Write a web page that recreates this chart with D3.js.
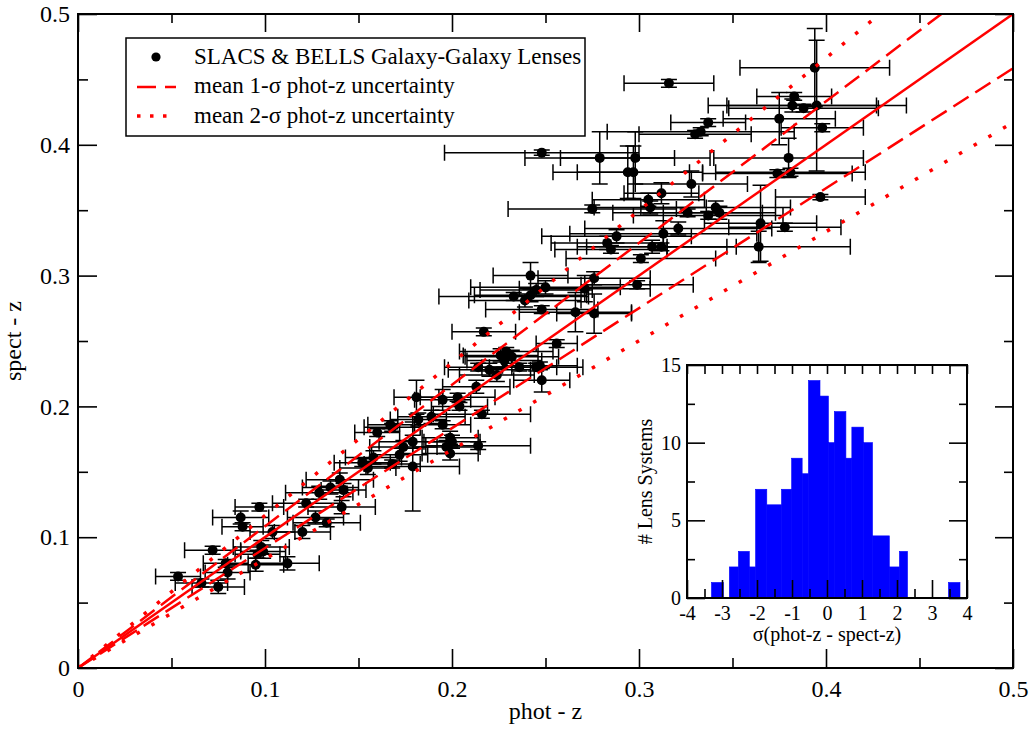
<!DOCTYPE html>
<html>
<head>
<meta charset="utf-8">
<script src="https://cdn.jsdelivr.net/npm/d3@7"></script>
<style>
  body { margin: 0; background: #fff; }
  svg text { font-family: "Liberation Serif", "Times New Roman", serif; fill: #000; }
</style>
</head>
<body>
<svg id="chart" width="1035" height="736"></svg>
<script>
// lens systems: photometric z, spectroscopic z and their errors
var photZ = [
  0.394,0.316,0.383,0.382,0.388,0.395,0.375,0.337,0.333,0.330,
  0.398,0.279,0.298,0.294,0.297,0.380,0.374,0.381,0.248,0.328,
  0.312,0.305,0.306,0.275,0.326,0.337,0.341,0.343,0.321,0.313,
  0.288,0.283,0.285,0.307,0.312,0.365,0.378,0.397,0.364,0.301,
  0.276,0.242,0.299,0.271,0.250,0.245,0.233,0.242,0.239,0.248,
  0.266,0.276,0.217,0.256,0.226,0.229,0.232,0.228,0.214,0.220,
  0.224,0.236,0.245,0.247,0.248,0.213,0.181,0.203,0.195,0.204,
  0.216,0.189,0.182,0.167,0.168,0.160,0.199,0.200,0.197,0.199,
  0.214,0.179,0.174,0.172,0.152,0.179,0.168,0.155,0.158,0.140,
  0.129,0.135,0.142,0.122,0.141,0.127,0.133,0.120,0.097,0.087,
  0.088,0.104,0.072,0.098,0.099,0.096,0.112,0.095,0.079,0.080,
  0.0535,0.066,0.075,0.195]
var specZ = [
  0.459,0.447,0.437,0.430,0.428,0.430,0.420,0.417,0.410,0.408,
  0.413,0.390,0.390,0.379,0.379,0.390,0.378,0.379,0.394,0.370,
  0.363,0.358,0.352,0.351,0.348,0.346,0.352,0.348,0.336,0.332,
  0.330,0.325,0.320,0.322,0.322,0.340,0.337,0.360,0.322,0.313,
  0.298,0.300,0.293,0.290,0.291,0.289,0.284,0.285,0.281,0.274,
  0.272,0.271,0.257,0.248,0.239,0.242,0.238,0.235,0.230,0.228,
  0.224,0.230,0.230,0.231,0.220,0.215,0.207,0.207,0.205,0.200,
  0.194,0.192,0.190,0.186,0.184,0.180,0.176,0.173,0.169,0.164,
  0.170,0.173,0.169,0.163,0.157,0.154,0.156,0.153,0.161,0.144,
  0.134,0.138,0.136,0.126,0.123,0.115,0.111,0.104,0.123,0.115,
  0.108,0.104,0.090,0.0925,0.089,0.087,0.080,0.079,0.080,0.073,
  0.070,0.065,0.062,0.186]
var photErr = [
  0.040,0.024,0.020,0.045,0.040,0.048,0.030,0.020,0.050,0.030,
  0.022,0.040,0.040,0.040,0.030,0.040,0.040,0.040,0.052,0.030,
  0.020,0.030,0.030,0.045,0.040,0.040,0.040,0.030,0.050,0.050,
  0.040,0.030,0.030,0.040,0.040,0.030,0.030,0.024,0.049,0.040,
  0.030,0.020,0.030,0.035,0.040,0.030,0.040,0.030,0.030,0.030,
  0.030,0.020,0.017,0.011,0.020,0.025,0.025,0.020,0.018,0.022,
  0.020,0.020,0.025,0.020,0.015,0.018,0.012,0.020,0.015,0.015,
  0.026,0.018,0.015,0.012,0.015,0.012,0.015,0.015,0.018,0.015,
  0.028,0.018,0.018,0.015,0.015,0.025,0.015,0.015,0.015,0.018,
  0.018,0.015,0.012,0.018,0.018,0.015,0.018,0.015,0.013,0.015,
  0.011,0.012,0.015,0.015,0.012,0.012,0.017,0.015,0.012,0.012,
  0.012,0.014,0.014,0.015]
var specErr = [
  0.030,0.003,0.003,0.005,0.003,0.050,0.020,0.003,0.003,0.003,
  0.003,0.020,0.020,0.020,0.020,0.015,0.003,0.003,0.002,0.010,
  0.008,0.005,0.005,0.003,0.003,0.003,0.005,0.005,0.005,0.010,
  0.005,0.005,0.003,0.005,0.003,0.029,0.003,0.002,0.012,0.003,
  0.005,0.010,0.003,0.010,0.005,0.005,0.003,0.005,0.005,0.003,
  0.015,0.015,0.003,0.003,0.005,0.003,0.005,0.005,0.003,0.005,
  0.005,0.003,0.003,0.003,0.009,0.005,0.013,0.003,0.008,0.003,
  0.003,0.005,0.005,0.003,0.003,0.003,0.005,0.005,0.005,0.005,
  0.003,0.005,0.005,0.005,0.003,0.034,0.003,0.005,0.005,0.005,
  0.005,0.005,0.005,0.003,0.005,0.005,0.003,0.005,0.003,0.005,
  0.003,0.005,0.003,0.005,0.005,0.003,0.005,0.005,0.003,0.005,
  0.003,0.003,0.005,0.003]

// mean phot-z uncertainty (fractional)
var sigma1 = 0.083, sigma2 = 0.166

var xMajor = [0, 0.1, 0.2, 0.3, 0.4, 0.5], xMinor = [0.05, 0.15, 0.25, 0.35, 0.45]
var yMajor = [0, 0.1, 0.2, 0.3, 0.4, 0.5], yMinor = [0.05, 0.15, 0.25, 0.35, 0.45]
var xTickLabels = ["0", "0.1", "0.2", "0.3", "0.4", "0.5"]
var yTickLabels = ["0", "0.1", "0.2", "0.3", "0.4", "0.5"]

// inset histogram
var binEdges = [-4, -3.3, -2.96, -2.79, -2.53, -2.22, -2.04, -1.72, -1.3, -1.01, -0.71, -0.53,
                -0.2, 0.04, 0.21, 0.54, 0.71, 1.04, 1.3, 1.78, 2.07, 2.3, 3.47, 3.8]
var binCounts = [0, 1, 0, 2, 3, 2, 7, 6, 7, 9, 8, 14, 13, 10, 12, 9, 11, 10, 4, 2, 3, 0, 1]
var hxMajor = [-4, -3, -2, -1, 0, 1, 2, 3, 4], hxMinor = [-3.5, -2.5, -1.5, -0.5, 0.5, 1.5, 2.5, 3.5]
var hyMajor = [0, 5, 10, 15], hyMinor = [2.5, 7.5, 12.5]
var hxTickLabels = ["-4", "-3", "-2", "-1", "0", "1", "2", "3", "4"]
var hyTickLabels = ["0", "5", "10", "15"]

var svg = d3.select("#chart")
var x = d3.scaleLinear().domain([0, 0.5]).range([78, 1013])
var y = d3.scaleLinear().domain([0, 0.5]).range([668, 14])

svg.append("defs").append("clipPath").attr("id", "plotclip")
  .append("rect").attr("x", 78).attr("y", 14).attr("width", 935).attr("height", 654)

function styleAxis(g, size) {
  g.select(".domain").remove()
  g.selectAll(".tick line").attr("stroke", "#000").attr("stroke-width", 1.6)
  g.attr("font-size", size)
}

// ---- main axes
var axes = svg.append("g")
axes.append("g").attr("transform", "translate(0,668)")
  .call(d3.axisBottom(x).tickValues(xMajor).tickSize(-19).tickPadding(12)
    .tickFormat(function(d, i) { return xTickLabels[i] }))
  .call(styleAxis, 24)
axes.append("g").attr("transform", "translate(0,668)")
  .call(d3.axisBottom(x).tickValues(xMinor).tickSize(-10).tickFormat(""))
  .call(styleAxis, 24)
axes.append("g").attr("transform", "translate(0,14)")
  .call(d3.axisTop(x).tickValues(xMajor).tickSize(-18).tickFormat(""))
  .call(styleAxis, 24)
axes.append("g").attr("transform", "translate(0,14)")
  .call(d3.axisTop(x).tickValues(xMinor).tickSize(-9).tickFormat(""))
  .call(styleAxis, 24)
axes.append("g").attr("transform", "translate(78,0)")
  .call(d3.axisLeft(y).tickValues(yMajor).tickSize(-19).tickPadding(8)
    .tickFormat(function(d, i) { return yTickLabels[i] }))
  .call(styleAxis, 24)
axes.append("g").attr("transform", "translate(78,0)")
  .call(d3.axisLeft(y).tickValues(yMinor).tickSize(-10).tickFormat(""))
  .call(styleAxis, 24)
axes.append("g").attr("transform", "translate(1013,0)")
  .call(d3.axisRight(y).tickValues(yMajor).tickSize(-18).tickFormat(""))
  .call(styleAxis, 24)
axes.append("g").attr("transform", "translate(1013,0)")
  .call(d3.axisRight(y).tickValues(yMinor).tickSize(-9).tickFormat(""))
  .call(styleAxis, 24)

svg.append("text").attr("x", 545.5).attr("y", 719).attr("text-anchor", "middle")
  .attr("font-size", 24).text("phot - z")
svg.append("text").attr("transform", "translate(21,341)rotate(-90)").attr("text-anchor", "middle")
  .attr("font-size", 24).text("spect - z")

// ---- data: error bars then markers
var pts = photZ.map(function(p, i) {
  return {p: p, s: specZ[i], pe: photErr[i], se: specErr[i]}
})
var cap = 8
var eb = svg.append("g").attr("stroke", "#000").attr("stroke-width", 1.5).attr("fill", "none")
pts.forEach(function(d) {
  var cx = x(d.p), cy = y(d.s), x0 = x(d.p - d.pe), x1 = x(d.p + d.pe), y0 = y(d.s - d.se), y1 = y(d.s + d.se)
  eb.append("path").attr("d",
    "M" + x0 + "," + cy + "H" + x1 +
    "M" + x0 + "," + (cy - cap) + "V" + (cy + cap) +
    "M" + x1 + "," + (cy - cap) + "V" + (cy + cap) +
    "M" + cx + "," + y1 + "V" + y0 +
    "M" + (cx - cap) + "," + y0 + "H" + (cx + cap) +
    "M" + (cx - cap) + "," + y1 + "H" + (cx + cap))
})
svg.append("g").selectAll("circle").data(pts).enter().append("circle")
  .attr("cx", function(d) { return x(d.p) })
  .attr("cy", function(d) { return y(d.s) })
  .attr("r", 5).attr("fill", "#000")

// ---- one-to-one line and uncertainty bands
var bands = [
  {k: 0, dash: null, w: 2.5},
  {k: sigma1, dash: "18,8", w: 2.5},
  {k: -sigma1, dash: "18,8", w: 2.5},
  {k: sigma2, dash: "3.5,13.5", w: 3.5},
  {k: -sigma2, dash: "3.5,13.5", w: 3.5}
]
var line = d3.line().x(function(d) { return x(d[0]) }).y(function(d) { return y(d[1]) })
svg.append("g").attr("clip-path", "url(#plotclip)").selectAll("path").data(bands).enter().append("path")
  .attr("d", function(b) { return line([[0, 0], [0.5, 0.5 * (1 + b.k)]]) })
  .attr("fill", "none").attr("stroke", "#ff0000")
  .attr("stroke-width", function(b) { return b.w })
  .attr("stroke-dasharray", function(b) { return b.dash })

svg.append("rect").attr("x", 78).attr("y", 14).attr("width", 935).attr("height", 654)
  .attr("fill", "none").attr("stroke", "#000").attr("stroke-width", 2)

// ---- legend
var lg = svg.append("g")
lg.append("rect").attr("x", 126).attr("y", 38).attr("width", 459).attr("height", 98)
  .attr("fill", "#fff").attr("stroke", "#000").attr("stroke-width", 1.5)
lg.append("circle").attr("cx", 156).attr("cy", 57).attr("r", 4.6).attr("fill", "#000")
lg.append("line").attr("x1", 137).attr("x2", 176).attr("y1", 87).attr("y2", 87)
  .attr("stroke", "#ff0000").attr("stroke-width", 2.5).attr("stroke-dasharray", "19,9")
lg.append("line").attr("x1", 137).attr("x2", 176).attr("y1", 116).attr("y2", 116)
  .attr("stroke", "#ff0000").attr("stroke-width", 3.5).attr("stroke-dasharray", "3.5,9.5")
var legendTexts = ["SLACS & BELLS Galaxy-Galaxy Lenses", "mean 1-σ phot-z uncertainty", "mean 2-σ phot-z uncertainty"]
lg.selectAll("text.lt").data(legendTexts).enter().append("text").attr("class", "lt")
  .attr("x", 194).attr("y", function(d, i) { return 64 + i * 29.3 })
  .attr("font-size", 23).text(function(d) { return d })

// ---- inset histogram
var ix = d3.scaleLinear().domain([-4, 4]).range([687, 967])
var iy = d3.scaleLinear().domain([0, 15]).range([598, 365])
var ins = svg.append("g")
ins.append("rect").attr("x", 687).attr("y", 365).attr("width", 280).attr("height", 233).attr("fill", "#fff")
var bins = binCounts.map(function(c, i) { return {x0: binEdges[i], x1: binEdges[i + 1], n: c} })
ins.append("g").selectAll("rect").data(bins).enter().append("rect")
  .attr("x", function(d) { return ix(d.x0) })
  .attr("width", function(d) { return ix(d.x1) - ix(d.x0) })
  .attr("y", function(d) { return iy(d.n) })
  .attr("height", function(d) { return iy(0) - iy(d.n) })
  .attr("fill", "#0000ff").attr("stroke", "#0000ff").attr("stroke-width", 0.6)
ins.append("line").attr("x1", ix(binEdges[0])).attr("x2", ix(binEdges[binEdges.length - 1]))
  .attr("y1", iy(0)).attr("y2", iy(0)).attr("stroke", "#0000ff").attr("stroke-width", 2)

ins.append("g").attr("transform", "translate(0,598)")
  .call(d3.axisBottom(ix).tickValues(hxMajor).tickSize(-18).tickPadding(8)
    .tickFormat(function(d, i) { return hxTickLabels[i] }))
  .call(styleAxis, 20)
ins.append("g").attr("transform", "translate(0,598)")
  .call(d3.axisBottom(ix).tickValues(hxMinor).tickSize(-9).tickFormat(""))
  .call(styleAxis, 20)
ins.append("g").attr("transform", "translate(0,365)")
  .call(d3.axisTop(ix).tickValues(hxMajor.concat(hxMinor)).tickSize(-9).tickFormat(""))
  .call(styleAxis, 20)
ins.append("g").attr("transform", "translate(687,0)")
  .call(d3.axisLeft(iy).tickValues(hyMajor).tickSize(-18).tickPadding(6)
    .tickFormat(function(d, i) { return hyTickLabels[i] }))
  .call(styleAxis, 20)
ins.append("g").attr("transform", "translate(687,0)")
  .call(d3.axisLeft(iy).tickValues(hyMinor).tickSize(-8).tickFormat(""))
  .call(styleAxis, 20)
ins.append("g").attr("transform", "translate(967,0)")
  .call(d3.axisRight(iy).tickValues(hyMajor).tickSize(-18).tickFormat(""))
  .call(styleAxis, 20)
ins.append("g").attr("transform", "translate(967,0)")
  .call(d3.axisRight(iy).tickValues(hyMinor).tickSize(-8).tickFormat(""))
  .call(styleAxis, 20)
ins.append("rect").attr("x", 687).attr("y", 365).attr("width", 280).attr("height", 233)
  .attr("fill", "none").attr("stroke", "#000").attr("stroke-width", 2)

ins.append("text").attr("x", 827).attr("y", 641).attr("text-anchor", "middle")
  .attr("font-size", 20).text("σ(phot-z - spect-z)")
ins.append("text").attr("transform", "translate(652,481.5)rotate(-90)").attr("text-anchor", "middle")
  .attr("font-size", 20).text("# Lens Systems")
</script>
</body>
</html>
